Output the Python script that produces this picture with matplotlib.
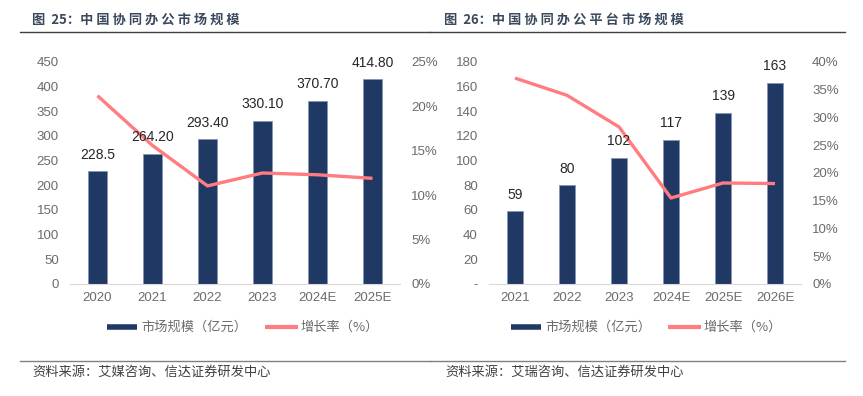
import numpy as np
import matplotlib.pyplot as plt
from matplotlib.lines import Line2D

plt.rcParams['font.family'] = ['Liberation Sans', 'Noto Sans CJK SC', 'DejaVu Sans']

# figure 25 data
years_a = ['2020', '2021', '2022', '2023', '2024E', '2025E']
size_a = [228.5, 264.2, 293.4, 330.1, 370.7, 414.8]
size_a_labels = ['228.5', '264.20', '293.40', '330.10', '370.70', '414.80']
growth_a = [21.2, 15.6, 11.05, 12.5, 12.3, 11.9]

# figure 26 data
years_b = ['2021', '2022', '2023', '2024E', '2025E', '2026E']
size_b = [59, 80, 102, 117, 139, 163]
size_b_labels = ['59', '80', '102', '117', '139', '163']
growth_b = [37.1, 34.0, 28.3, 15.5, 18.2, 18.1]

title_a = '图  25：中 国 协 同 办 公 市 场 规 模'
title_b = '图  26：中 国 协 同 办 公 平 台 市 场 规 模'
source_a = '资料来源：艾媒咨询、信达证券研发中心'
source_b = '资料来源：艾瑞咨询、信达证券研发中心'
legend_labels = ['市场规模（亿元）', '增长率（%）']

NAVY = '#1F3864'
SALMON = '#FF7C80'
GREY = '#6B6B6B'
CJK = ['Noto Sans CJK SC', 'DejaVu Sans']

W, H = 863, 396
fig = plt.figure(figsize=(W / 100, H / 100), dpi=100)


def px(x0, y0, x1, y1):
    return [x0 / W, 1 - y1 / H, (x1 - x0) / W, (y1 - y0) / H]


def panel(rect, cats, sizes, labels, growth, ymax, ystep, pmax, bar_w, zero_dash):
    ax = fig.add_axes(rect)
    x = np.arange(len(cats))
    ax.bar(x, sizes, width=bar_w, color=NAVY, edgecolor='#8497B0', linewidth=0.6, zorder=2)
    ax.set_xlim(-0.5, len(cats) - 0.5)
    ax.set_ylim(0, ymax)
    ticks = np.arange(0, ymax + 1, ystep)
    ax.set_yticks(ticks)
    ax.set_yticklabels(['-' if (t == 0 and zero_dash) else f'{t:g}' for t in ticks])
    ax.set_xticks(x)
    ax.set_xticklabels(cats)
    for s in ['top', 'right', 'left']:
        ax.spines[s].set_visible(False)
    ax.spines['bottom'].set_color('#D9D9D9')
    ax.tick_params(length=0, colors=GREY, labelsize=9.5)
    ax.tick_params(axis='y', pad=8)
    ax.tick_params(axis='x', pad=6)

    ax2 = ax.twinx()
    ax2.plot(x, growth, color=SALMON, lw=2.4, solid_capstyle='butt', zorder=3)
    ax2.set_ylim(0, pmax)
    pt = np.arange(0, pmax + 1, 5)
    ax2.set_yticks(pt)
    ax2.set_yticklabels([f'{t:g}%' for t in pt])
    for s in ax2.spines.values():
        s.set_visible(False)
    ax2.tick_params(length=0, colors=GREY, labelsize=9.5, pad=8)

    for xi, v, lab in zip(x, sizes, labels):
        ax2.annotate(lab, (xi, v), xycoords=ax.transData, xytext=(0, 7),
                     textcoords='offset points', ha='center', va='bottom',
                     fontsize=10, color='#262626', zorder=5)
    return ax


panel(px(70, 62, 400, 284), years_a, size_a, size_a_labels, growth_a, 450, 50, 25, 0.33, False)
panel(px(489, 62, 801, 284), years_b, size_b, size_b_labels, growth_b, 180, 20, 40, 0.31, True)

# titles, rules, sources
fig.text(32 / W, 1 - 20 / H, title_a, family=CJK, fontsize=9.5, fontweight='bold',
         color='#3A4A5C', va='center')
fig.text(444 / W, 1 - 20 / H, title_b, family=CJK, fontsize=9.5, fontweight='bold',
         color='#3A4A5C', va='center')
for x0, x1 in [(20, 430), (430, 845)]:
    fig.add_artist(Line2D([x0 / W, x1 / W], [1 - 32 / H] * 2, color='#404040', lw=1.0))
    fig.add_artist(Line2D([x0 / W, x1 / W], [1 - 361 / H] * 2, color='#808080', lw=1.0))
fig.text(32 / W, 1 - 372 / H, source_a, family=CJK, fontsize=9.5, style='italic',
         color='#404040', va='center')
fig.text(445 / W, 1 - 372 / H, source_b, family=CJK, fontsize=9.5, style='italic',
         color='#404040', va='center')

# legends
for lx in [(107, 265), (511, 668)]:
    fig.add_artist(Line2D([lx[0] / W, (lx[0] + 30) / W], [1 - 327 / H] * 2, color=NAVY, lw=4,
                          solid_capstyle='butt'))
    fig.text((lx[0] + 34) / W, 1 - 327 / H, legend_labels[0], family=CJK, fontsize=9.5,
             color=GREY, va='center')
    fig.add_artist(Line2D([lx[1] / W, (lx[1] + 33) / W], [1 - 327 / H] * 2, color=SALMON, lw=3,
                          solid_capstyle='butt'))
    fig.text((lx[1] + 35) / W, 1 - 327 / H, legend_labels[1], family=CJK, fontsize=9.5,
             color=GREY, va='center')

fig.savefig('out.png', dpi=100, facecolor='white')
